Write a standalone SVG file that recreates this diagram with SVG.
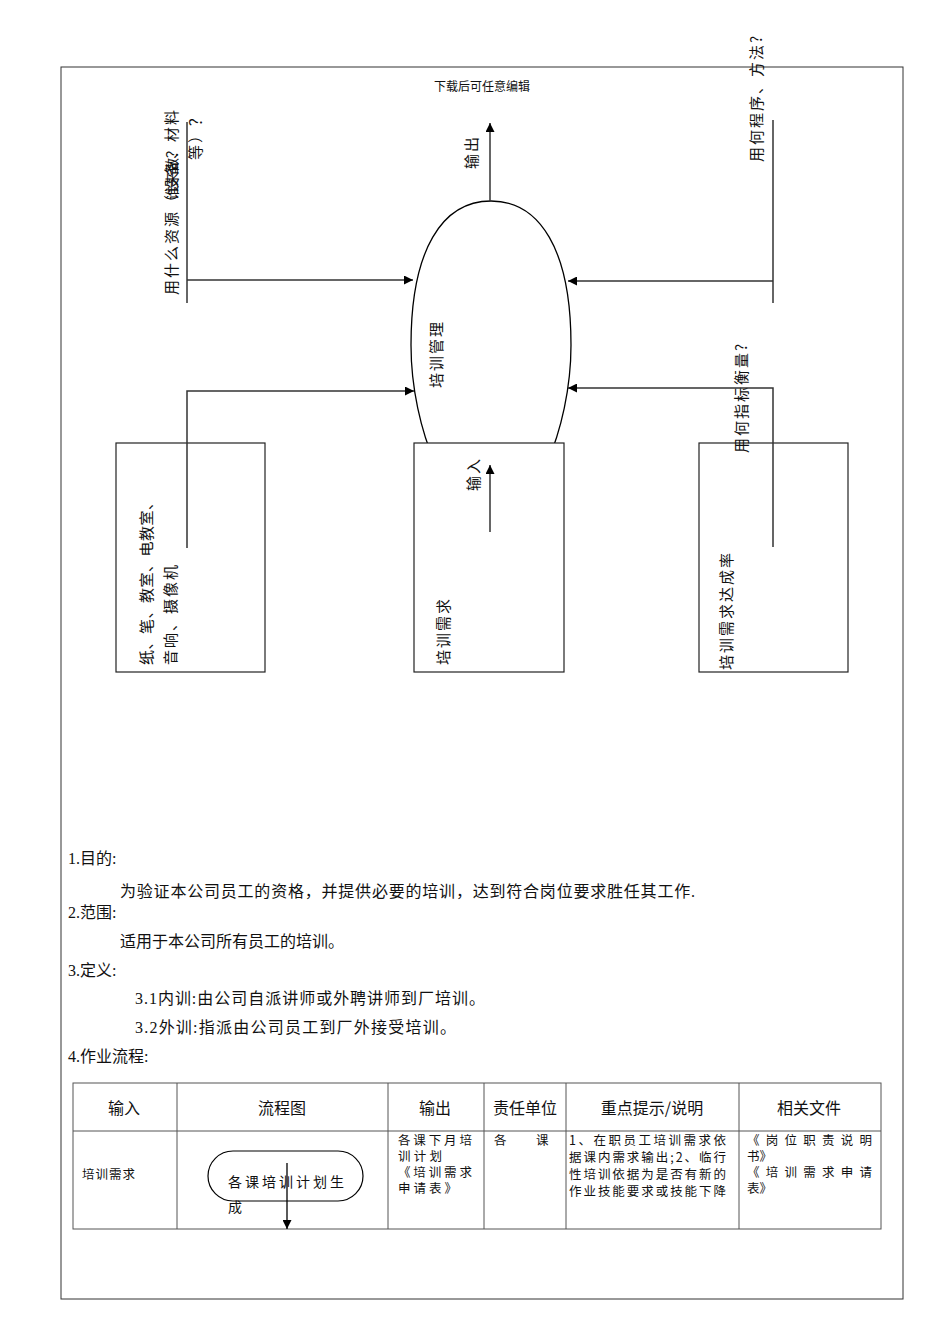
<svg xmlns="http://www.w3.org/2000/svg" width="950" height="1344" viewBox="0 0 950 1344">
<style>
.t{font-family:"Noto Sans CJK SC","Noto Sans",sans-serif;fill:#111}
.r{font-size:15px;letter-spacing:2px}
.b{font-family:"Liberation Serif","Noto Sans CJK SC",serif;font-size:16px;fill:#111}
.c{font-size:12.5px}
.h{font-size:16px;text-anchor:middle}
.ln{stroke:#333;stroke-width:1.5;fill:none}
.bx{fill:#fff;stroke:#222;stroke-width:1.2}
.tb{stroke:#555;stroke-width:1;fill:none}
</style>
<defs>
<marker id="ah" viewBox="0 0 10 10" refX="10" refY="5" markerWidth="9" markerHeight="9" markerUnits="userSpaceOnUse" orient="auto">
<path d="M0,0 L10,5 L0,10 Z" fill="#000"/>
</marker>
</defs>
<rect width="950" height="1344" fill="#fff"/>
<rect x="61" y="67" width="842" height="1232" fill="none" stroke="#333" stroke-width="1"/>
<text class="t" x="482" y="91" font-size="12" text-anchor="middle">下载后可任意编辑</text>

<g id="process">
<path d="M491,201 C442,201 411,250 411,345 C411,430 450,520 491,520 C532,520 571,430 571,345 C571,250 540,201 491,201 Z" fill="#fff" stroke="#000" stroke-width="1.3"/>
<text class="t r" transform="translate(442,388) rotate(-90)">培训管理</text>
</g>

<g id="resource-box">
<rect class="bx" x="116" y="443" width="149" height="229"/>
<text class="t" font-size="15" letter-spacing="0.5" transform="translate(152,665) rotate(-90)">纸、笔、教室、电教室、</text>
<text class="t r" transform="translate(176,665) rotate(-90)">音响、摄像机</text>
</g>

<g id="input-box">
<rect class="bx" x="414" y="443" width="150" height="229"/>
<text class="t r" transform="translate(449,665) rotate(-90)">培训需求</text>
</g>

<g id="kpi-box">
<rect class="bx" x="699" y="443" width="149" height="229"/>
<text class="t r" transform="translate(732,670) rotate(-90)">培训需求达成率</text>
</g>

<g id="labels">
<text class="t r" transform="translate(177,295) rotate(-90)">用什么资源（设备、材料</text>
<text class="t" font-size="14" transform="translate(177,200) rotate(-90)">谁来做？</text>
<text class="t r" transform="translate(201,160) rotate(-90)">等）？</text>
<text class="t r" transform="translate(477,169) rotate(-90)">输出</text>
<text class="t r" transform="translate(479,491) rotate(-90)">输入</text>
<text class="t r" transform="translate(762,162) rotate(-90)">用何程序、方法?</text>
<text class="t r" transform="translate(747,453) rotate(-90)">用何指标衡量?</text>
</g>

<g id="connectors">
<line class="ln" x1="490" y1="201" x2="490" y2="123" marker-end="url(#ah)"/>
<line class="ln" x1="490" y1="532" x2="490" y2="465" marker-end="url(#ah)"/>
<line class="ln" x1="187" y1="122" x2="187" y2="303"/>
<line class="ln" x1="187" y1="280" x2="413" y2="280" marker-end="url(#ah)"/>
<polyline class="ln" points="187,548 187,391 414,391" marker-end="url(#ah)"/>
<line class="ln" x1="773" y1="120" x2="773" y2="303"/>
<line class="ln" x1="773" y1="281" x2="568" y2="281" marker-end="url(#ah)"/>
<polyline class="ln" points="773,547 773,388 568,388" marker-end="url(#ah)"/>
</g>

<g id="body-text">
<text class="b" x="68" y="864">1.目的:</text>
<text class="b" x="120" y="897" textLength="575" lengthAdjust="spacing">为验证本公司员工的资格，并提供必要的培训，达到符合岗位要求胜任其工作.</text>
<text class="b" x="68" y="918">2.范围:</text>
<text class="b" x="120" y="947" textLength="224" lengthAdjust="spacing">适用于本公司所有员工的培训。</text>
<text class="b" x="68" y="976">3.定义:</text>
<text class="b" x="135" y="1004" textLength="350" lengthAdjust="spacing">3.1内训:由公司自派讲师或外聘讲师到厂培训。</text>
<text class="b" x="135" y="1033" textLength="321" lengthAdjust="spacing">3.2外训:指派由公司员工到厂外接受培训。</text>
<text class="b" x="68" y="1062">4.作业流程:</text>
</g>

<g id="table">
<rect class="tb" x="73" y="1083" width="808" height="146"/>
<line class="tb" x1="73" y1="1131" x2="881" y2="1131"/>
<line class="tb" x1="177" y1="1083" x2="177" y2="1229"/>
<line class="tb" x1="388" y1="1083" x2="388" y2="1229"/>
<line class="tb" x1="484" y1="1083" x2="484" y2="1229"/>
<line class="tb" x1="566" y1="1083" x2="566" y2="1229"/>
<line class="tb" x1="739" y1="1083" x2="739" y2="1229"/>
<text class="t h" x="124" y="1114">输入</text>
<text class="t h" x="282" y="1114">流程图</text>
<text class="t h" x="435" y="1114">输出</text>
<text class="t h" x="525" y="1114">责任单位</text>
<text class="t h" x="652" y="1114">重点提示/说明</text>
<text class="t h" x="809" y="1114">相关文件</text>
<text class="t c" x="82" y="1179" letter-spacing="1">培训需求</text>
<text class="t c" x="398" y="1145" textLength="74" lengthAdjust="spacing">各课下月培</text>
<text class="t c" x="398" y="1161" textLength="44" lengthAdjust="spacing">训计划</text>
<text class="t c" x="398" y="1177" textLength="74" lengthAdjust="spacing">《培训需求</text>
<text class="t c" x="398" y="1193" textLength="59" lengthAdjust="spacing">申请表》</text>
<text class="t c" x="494" y="1145">各</text>
<text class="t c" x="536" y="1145">课</text>
<text class="t c" x="569" y="1145" textLength="157" lengthAdjust="spacing">1、在职员工培训需求依</text>
<text class="t c" x="569" y="1162" textLength="157" lengthAdjust="spacing">据课内需求输出;2、临行</text>
<text class="t c" x="569" y="1179" textLength="157" lengthAdjust="spacing">性培训依据为是否有新的</text>
<text class="t c" x="569" y="1196" textLength="157" lengthAdjust="spacing">作业技能要求或技能下降</text>
<text class="t c" x="747" y="1145" textLength="125" lengthAdjust="spacing">《岗位职责说明</text>
<text class="t c" x="747" y="1161">书》</text>
<text class="t c" x="747" y="1177" textLength="125" lengthAdjust="spacing">《培训需求申请</text>
<text class="t c" x="747" y="1193">表》</text>
</g>

<g id="flow-step">
<rect x="208" y="1151" width="155" height="50" rx="25" ry="25" fill="none" stroke="#000" stroke-width="1.2"/>
<text class="t" font-size="14" x="228" y="1187" textLength="116" lengthAdjust="spacing">各课培训计划生</text>
<text class="t" font-size="14" x="228" y="1212">成</text>
<line x1="287" y1="1163" x2="287" y2="1229" stroke="#000" stroke-width="1.3" marker-end="url(#ah)"/>
</g>
</svg>
